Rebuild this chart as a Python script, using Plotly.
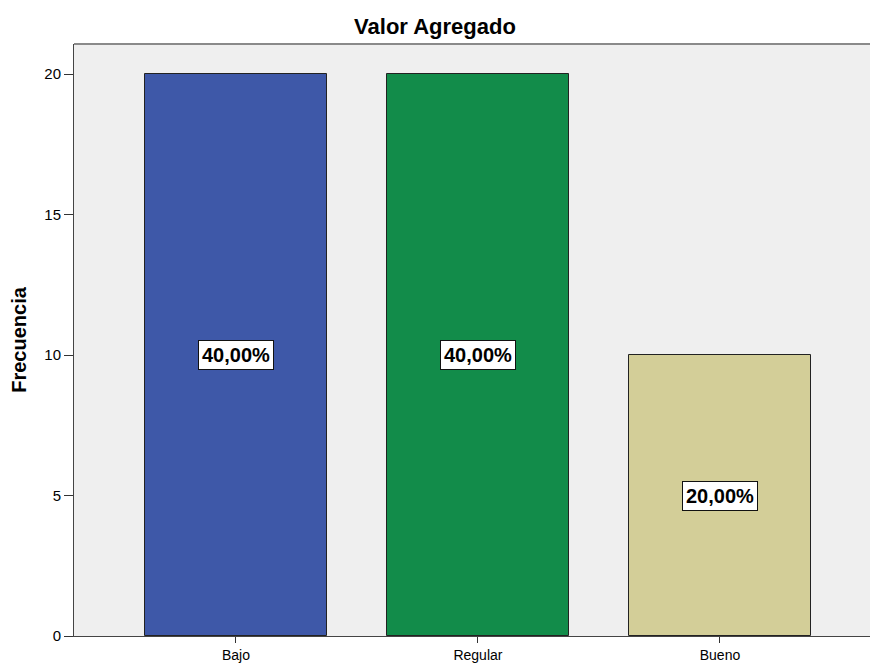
import plotly.graph_objects as go

categorias = ["Bajo", "Regular", "Bueno"]
frecuencias = [20, 20, 10]
porcentajes = ["40,00%", "40,00%", "20,00%"]
colores = ["#3e58a8", "#128c4a", "#d3ce98"]

fig = go.Figure()
fig.add_trace(go.Bar(
    x=list(range(len(categorias))),
    y=frecuencias,
    width=0.752,
    marker=dict(color=colores, line=dict(color="#222222", width=1)),
    hoverinfo="skip",
))

# etiquetas de porcentaje en el centro de cada barra
for i, (f, p) in enumerate(zip(frecuencias, porcentajes)):
    fig.add_annotation(
        x=i, y=f / 2, text="<b>" + p + "</b>", showarrow=False,
        font=dict(family="Arial, Liberation Sans", size=20, color="black"),
        bgcolor="white", bordercolor="#111111", borderwidth=1, borderpad=3,
    )

# borde superior del área del gráfico
fig.add_shape(type="line", xref="paper", yref="paper", x0=0, x1=1, y0=1, y1=1,
              line=dict(color="#8a8a8a", width=2))

fig.update_layout(
    width=870, height=664,
    margin=dict(l=74, r=0, t=44, b=28),
    paper_bgcolor="white",
    plot_bgcolor="#efefef",
    showlegend=False,
    bargap=0,
    title=dict(text="<b>Valor Agregado</b>", x=0.5, xanchor="center", y=0.961, yanchor="middle",
               font=dict(family="Arial, Liberation Sans", size=22, color="black")),
    font=dict(family="Arial, Liberation Sans", color="black"),
)
fig.update_xaxes(
    range=[-0.669, 2.62], tickvals=list(range(len(categorias))), ticktext=categorias,
    showgrid=False, zeroline=False, showline=True, linecolor="#444444", linewidth=1,
    ticks="outside", ticklen=6, tickcolor="#333333", tickfont=dict(size=14),
    automargin=False,
)
fig.update_yaxes(
    range=[0, 21.07], tickvals=[0, 5, 10, 15, 20], showgrid=False, zeroline=False,
    showline=True, linecolor="#444444", linewidth=1,
    ticks="outside", ticklen=9, tickcolor="#333333", tickfont=dict(size=15),
    title=dict(text="<b>Frecuencia</b>", font=dict(size=20), standoff=12),
    automargin=False,
)

# quitar el margen de 8px del body para que el gráfico ocupe toda la ventana
fig.write_html("out.html", config={"displayModeBar": False},
               post_script="document.body.style.margin='0';")
